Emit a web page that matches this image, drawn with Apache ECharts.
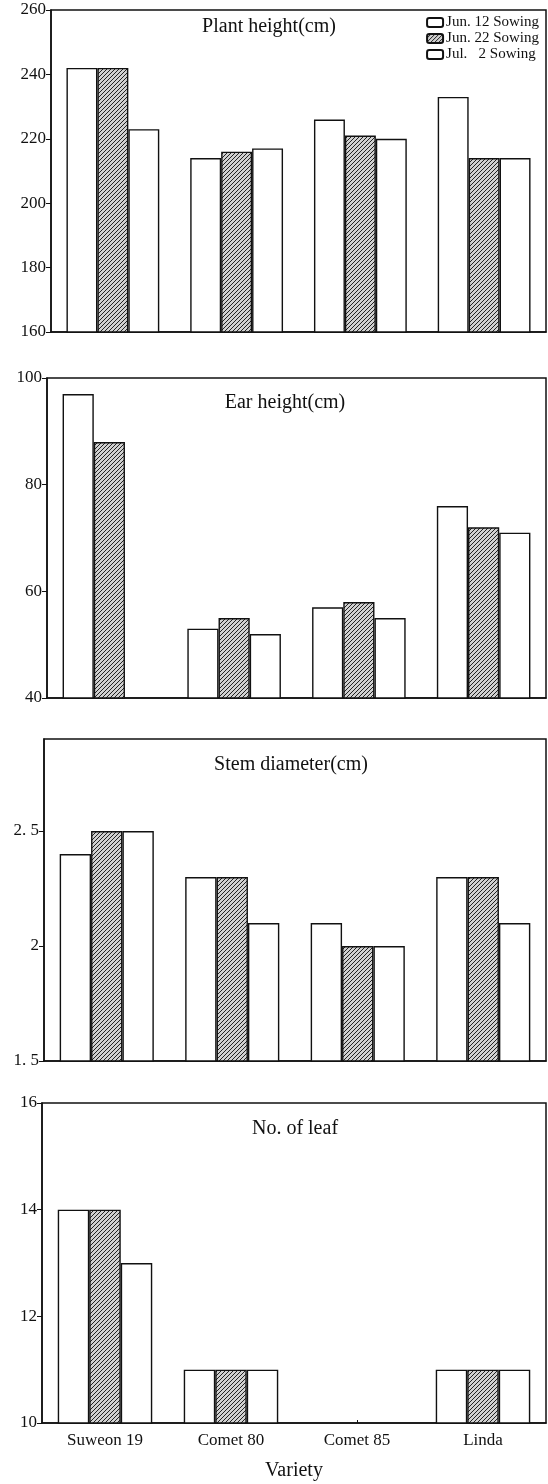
<!DOCTYPE html>
<html><head><meta charset="utf-8">
<script src="https://cdn.jsdelivr.net/npm/echarts@6/dist/echarts.min.js"></script>
<style>html,body{margin:0;padding:0;background:#fff}#c{width:548px;height:1484px}</style>
</head><body><div id="c"></div>
<script>
// ---- data ----
var categories = ['Suweon 19', 'Comet 80', 'Comet 85', 'Linda'];
var seriesNames = ['Jun. 12 Sowing', 'Jun. 22 Sowing', 'Jul.   2 Sowing'];
var panelTitles = ['Plant height(cm)', 'Ear height(cm)', 'Stem diameter(cm)', 'No. of leaf'];

var plantJun12 = [242, 214, 226, 233];
var plantJun22 = [242, 216, 221, 214];
var plantJul2  = [223, 217, 220, 214];

var earJun12 = [97, 53, 57, 76];
var earJun22 = [88, 55, 58, 72];
var earJul2  = [null, 52, 55, 71];

var stemJun12 = [2.4, 2.3, 2.1, 2.3];
var stemJun22 = [2.5, 2.3, 2.0, 2.3];
var stemJul2  = [2.5, 2.1, 2.0, 2.1];

var leafJun12 = [14, 11, null, 11];
var leafJun22 = [14, 11, null, 11];
var leafJul2  = [13, 11, null, 11];

var yTicks1 = [160, 180, 200, 220, 240, 260];
var yTicks2 = [40, 60, 80, 100];
var yTicks3 = [1.5, 2, 2.5];
var yTicks4 = [10, 12, 14, 16];

// ---- hatch pattern ----
function makeHatch() {
  var c = document.createElement('canvas');
  c.width = 4; c.height = 4;
  var g = c.getContext('2d');
  g.fillStyle = '#d0d0d0';
  g.fillRect(0, 0, 4, 4);
  g.strokeStyle = '#222';
  g.lineWidth = 1;
  g.beginPath();
  g.moveTo(-1, 1); g.lineTo(1, -1);
  g.moveTo(-1, 5); g.lineTo(5, -1);
  g.moveTo(3, 5); g.lineTo(5, 3);
  g.stroke();
  return c;
}
var hatch = { image: makeHatch(), repeat: 'repeat' };

var FONT = '"Liberation Serif", "DejaVu Serif", serif';
var INK = '#111';

var panels = [
  { data: [plantJun12, plantJun22, plantJul2], ticks: yTicks1, min: 160, max: 260, interval: 20, left: 51, top: 10, height: 322 },
  { data: [earJun12, earJun22, earJul2], ticks: yTicks2, min: 40, max: 100, interval: 20, left: 47, top: 378, height: 320 },
  { data: [stemJun12, stemJun22, stemJul2], ticks: yTicks3, min: 1.5, max: 2.9, interval: 0.5, left: 44, top: 739, height: 322 },
  { data: [leafJun12, leafJun22, leafJul2], ticks: yTicks4, min: 10, max: 16, interval: 2, left: 42, top: 1103, height: 320 }
];
var titlePos = [
  { left: 264, top: 12 },
  { left: 280, top: 388 },
  { left: 286, top: 750 },
  { left: 290, top: 1114 }
];

var grids = [], xAxes = [], yAxes = [], series = [], titles = [];
panels.forEach(function (p, i) {
  grids.push({ left: p.left, right: 2, top: p.top, height: p.height, show: true,
    borderColor: INK, borderWidth: 1.5, backgroundColor: 'transparent' });
  var last = i === panels.length - 1;
  xAxes.push({
    type: 'category', gridIndex: i, data: categories, boundaryGap: true,
    axisLine: { show: true, lineStyle: { color: INK, width: 1.5 } },
    axisTick: { show: true, inside: true, alignWithLabel: true, length: 3, lineStyle: { color: INK } },
    axisLabel: { show: last, color: INK, fontFamily: FONT, fontSize: 17, margin: 9 },
    name: last ? 'Variety' : '', nameLocation: 'middle', nameGap: 38,
    nameTextStyle: { color: INK, fontFamily: FONT, fontSize: 20 },
    splitLine: { show: false }
  });
  yAxes.push({
    type: 'value', gridIndex: i, min: p.min, max: p.max, interval: p.interval,
    axisLine: { show: true, lineStyle: { color: INK, width: 1.5 } },
    axisTick: { show: true, length: 5, customValues: p.ticks, lineStyle: { color: INK } },
    axisLabel: { color: INK, fontFamily: FONT, fontSize: 17, margin: 5, customValues: p.ticks,
      formatter: function (v) { return String(v).replace('.', '. '); } },
    splitLine: { show: false }
  });
  p.data.forEach(function (arr, k) {
    series.push({
      name: seriesNames[k], type: 'bar', xAxisIndex: i, yAxisIndex: i, data: arr,
      barGap: '0%', barCategoryGap: '25%',
      itemStyle: { color: k === 1 ? hatch : '#fff', borderColor: INK, borderWidth: 1.4 },
      emphasis: { disabled: true }, animation: false
    });
  });
  titles.push({ text: panelTitles[i], left: titlePos[i].left, top: titlePos[i].top, textAlign: 'center',
    textStyle: { color: INK, fontFamily: FONT, fontSize: 20, fontWeight: 'normal' } });
});

var chart = echarts.init(document.getElementById('c'), null, { renderer: 'canvas' });
chart.setOption({
  animation: false,
  backgroundColor: '#fff',
  title: titles,
  legend: {
    data: seriesNames, orient: 'vertical', right: 4, top: 10, itemGap: 1,
    itemWidth: 16, itemHeight: 9, icon: 'roundRect',
    textStyle: { color: INK, fontFamily: FONT, fontSize: 15, lineHeight: 14, padding: [0, 0, 0, -2] },
    selectedMode: false
  },
  grid: grids, xAxis: xAxes, yAxis: yAxes, series: series
});
</script></body></html>
